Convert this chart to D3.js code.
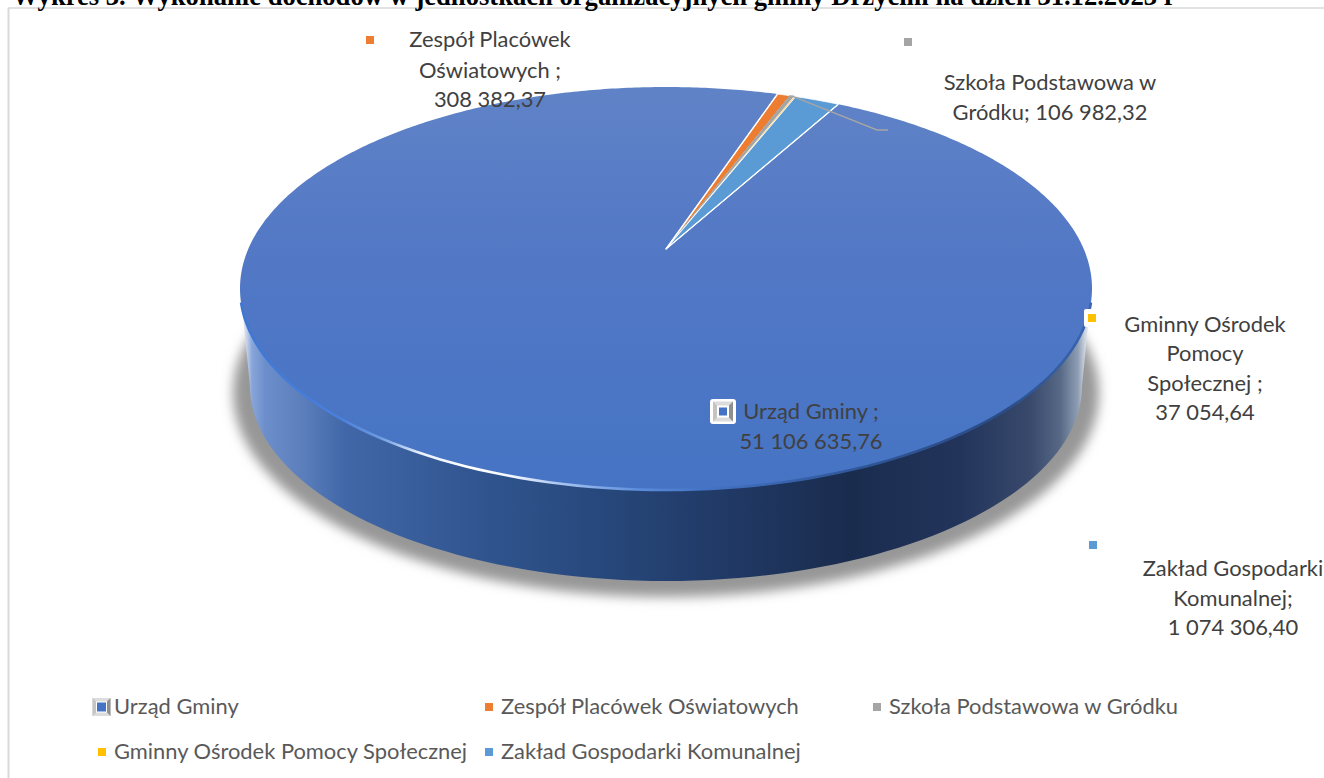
<!DOCTYPE html>
<html lang="pl">
<head>
<meta charset="utf-8">
<script src="https://cdn.jsdelivr.net/npm/d3@7"></script>
<style>
html,body{margin:0;padding:0;background:#fff;overflow:hidden}
svg{display:block}
</style>
</head>
<body>
<svg id="c" width="1324" height="778"></svg>
<script>
const titleText = "Wykres 3. Wykonanie dochodów w jednostkach organizacyjnych gminy Drzycim na dzień 31.12.2023 r";
const categories = ["Urząd Gminy","Zespół Placówek Oświatowych","Szkoła Podstawowa w Gródku","Gminny Ośrodek Pomocy Społecznej","Zakład Gospodarki Komunalnej"];
const values = [51106635.76,308382.37,106982.32,37054.64,1074306.40];
const colors = ["#4472c4","#ed7d31","#a5a5a5","#ffc000","#5b9bd5"];
const labelNameLines = [["Urząd Gminy ;"],["Zespół Placówek","Oświatowych ;"],["Szkoła Podstawowa w","Gródku;"],["Gminny Ośrodek","Pomocy","Społecznej ;"],["Zakład Gospodarki","Komunalnej;"]];

const svg = d3.select("#c");
const defs = svg.append("defs");
const FONT = "Lato, Carlito, Calibri, sans-serif";

// Perspective pie geometry: unit disc projected onto the top ellipse
const x = d3.scaleLinear().domain([-1,1]).range([240,1092]);
const y = d3.scaleLinear().domain([-1,1]).range([87,490]);
const k = -0.196;
const project = a => {
  const u = Math.sin(a), v = -Math.cos(a), w = 1 + k*v;
  return [x(u*Math.sqrt(1-k*k)/w), y((v+k)/w)];
};
const pie = d3.pie().sort(null).startAngle(28.9*Math.PI/180).endAngle((28.9+360)*Math.PI/180);
const arcs = pie(values);
const apex = [x(0), y(k)];
const slicePath = d => {
  const n = Math.max(2, Math.ceil((d.endAngle-d.startAngle)*90));
  const pts = d3.range(n+1).map(i => project(d.startAngle+(d.endAngle-d.startAngle)*i/n));
  return d3.line()([apex,...pts]) + "Z";
};

// gradients
const grad = (id, x1,y1,x2,y2, stops) => {
  const g = defs.append("linearGradient").attr("id",id).attr("gradientUnits","userSpaceOnUse")
    .attr("x1",x1).attr("y1",y1).attr("x2",x2).attr("y2",y2);
  stops.forEach(s => g.append("stop").attr("offset",(s[0]-(x1===x2?y1:x1))/((x1===x2?y2-y1:x2-x1))).attr("stop-color",s[1]));
};
grad("top",0,87,0,490,[[87,"#6083c7"],[250,"#5378c5"],[400,"#4a76c5"],[490,"#4673c3"]]);
grad("wall",240,0,1092,0,[[240,"#f2f4f9"],[246,"#cdd8ec"],[252,"#88a5d8"],[265,"#6c8fcc"],[300,"#5d80bd"],[345,"#4167a8"],[480,"#30558f"],[600,"#27487c"],[700,"#223c6a"],[850,"#1a2c4e"],[960,"#22345a"],[1030,"#38496c"],[1060,"#566885"],[1078,"#8f9eb4"],[1086,"#d6dde6"],[1092,"#f0f3f6"]]);
grad("rim",240,0,1092,0,[[240,"#3f76d2"],[340,"#4a80dc"],[380,"#6c9ae0"],[420,"#e8f0fc"],[470,"#ffffff"],[510,"#f5f9ff"],[560,"#a9c5f0"],[640,"#5c8ddc"],[700,"#4474c6"],[860,"#2f5597"],[1000,"#2b4d86"],[1092,"#3a66b4"]]);
const blur = defs.append("filter").attr("id","shadow").attr("x","-10%").attr("y","-20%").attr("width","120%").attr("height","140%");
blur.append("feGaussianBlur").attr("stdDeviation",6);
const blur2 = defs.append("filter").attr("id","soft").attr("x","-5%").attr("y","-5%").attr("width","110%").attr("height","110%");
blur2.append("feGaussianBlur").attr("stdDeviation",0.7);

// frame
svg.append("line").attr("x1",8.5).attr("x2",8.5).attr("y1",8).attr("y2",778).attr("stroke","#d9d9d9").attr("stroke-width",2);
svg.append("line").attr("x1",8).attr("x2",1324).attr("y1",8).attr("y2",8).attr("stroke","#d9d9d9").attr("stroke-width",1.5);

// title, cut by the top of the page as in the source
svg.append("text").attr("x",12).attr("y",5).attr("font-family","'Liberation Serif',serif").attr("font-weight","700")
  .attr("font-size",26.6).attr("fill","#000").text(titleText);

// shadow
defs.append("clipPath").attr("id","shClip").append("rect").attr("x",150).attr("y",305).attr("width",1030).attr("height",330);
svg.append("g").attr("clip-path","url(#shClip)").append("ellipse").attr("cx",x(0)).attr("cy",393).attr("rx",433).attr("ry",204)
  .attr("fill","#979797").attr("filter","url(#shadow)");

// wall
const wallLine = d3.line();
const botCx = x(0), botCy = 386, botRx = 416, botRy = 195;
const lowerArc = d3.range(0,181,2).map(t => {
  const a = t*Math.PI/180;
  return [botCx + botRx*Math.cos(a), botCy + botRy*Math.sin(a)];
});
svg.append("path").attr("d", wallLine([[x(1)-1,y(0)+8],...lowerArc,[x(-1)+1,y(0)+8]])+"Z").attr("fill","url(#wall)");

// top face
const slices = svg.append("g");
slices.selectAll("path").data(arcs).join("path")
  .attr("d", slicePath)
  .attr("fill",(d,i)=> i===0 ? "url(#top)" : colors[i])
  .attr("stroke",(d,i)=> i===0 ? "none" : (i===2 ? colors[2] : "#fff"))
  .attr("stroke-width",(d,i)=> i===2 ? 1.2 : 0.8)
  .attr("stroke-linejoin","round");

// white separators around the wedge group
svg.append("path").attr("d", d3.line()([project(arcs[1].startAngle),apex,project(arcs[4].endAngle)]))
  .attr("fill","none").attr("stroke","#fff").attr("stroke-width",1.4).attr("stroke-linejoin","round");

// rim light on the lower edge of the top face
const rimPts = d3.range(4,177,2).map(t => {
  const a = t*Math.PI/180;
  return [x(Math.cos(a)), y(Math.sin(a))];
});
svg.append("path").attr("d", d3.line()(rimPts)).attr("fill","none").attr("stroke","url(#rim)").attr("stroke-width",2.6).attr("filter","url(#soft)");

// leader line for Szkoła Podstawowa
const szkolaMid = project((arcs[2].startAngle+arcs[2].endAngle)/2);
svg.append("path").attr("d", d3.line()([szkolaMid,[877,130],[888,130]])).attr("fill","none").attr("stroke","#a5a5a5").attr("stroke-width",1.4);

// data labels
const nf = d3.formatLocale({decimal:",",thousands:"\u00a0",grouping:[3],currency:["",""]}).format(",.2f");
const labelPos = [
  {cx:811, base:[419,449]},
  {cx:490, base:[47,78,107]},
  {cx:1050,base:[90,120]},
  {cx:1205,base:[332,361,391,420]},
  {cx:1233,base:[576,606,635]}
];
const labelG = svg.append("g").attr("font-family",FONT).attr("font-size",21.9).attr("fill","#404040").attr("text-anchor","middle");
labelPos.forEach((p,i) => {
  const lines = [...labelNameLines[i]];
  const v = nf(values[i]);
  if (i===2) lines[lines.length-1] += " " + v; else lines.push(v);
  lines.forEach((t,j) => labelG.append("text").attr("x",p.cx).attr("y",p.base[j]).text(t));
});

// markers of the labels
const bevelMarker = (g, cx, cy, s) => {
  g.append("rect").attr("x",cx-s/2).attr("y",cy-s/2).attr("width",s).attr("height",s).attr("fill","#dcdcdc");
  g.append("path").attr("d",`M${cx-s/2} ${cy-s/2}L${cx-s/4} ${cy-s/4}V${cy+s/4}L${cx-s/2} ${cy+s/2}Z`).attr("fill","#c4c4c4");
  g.append("path").attr("d",`M${cx+s/2} ${cy-s/2}L${cx+s/4} ${cy-s/4}V${cy+s/4}L${cx+s/2} ${cy+s/2}Z`).attr("fill","#8f8f8f");
  g.append("rect").attr("x",cx-s/4-1).attr("y",cy-s/4-1).attr("width",s/2+2).attr("height",s/2+2).attr("fill","#fff");
};
const mk = svg.append("g");
mk.append("rect").attr("x",710).attr("y",399).attr("width",26).attr("height",25).attr("rx",3).attr("fill","#fff");
bevelMarker(mk,723,411.5,20);
mk.append("rect").attr("x",719).attr("y",407.5).attr("width",8).attr("height",8).attr("fill",colors[0]);
mk.append("rect").attr("x",1084).attr("y",309).attr("width",15).attr("height",18).attr("rx",2).attr("fill","#fff");
[[1,366,36],[2,904,38],[3,1088,314],[4,1089,541]].forEach(m =>
  mk.append("rect").attr("x",m[1]).attr("y",m[2]).attr("width",8).attr("height",8).attr("fill",colors[m[0]]));

// legend
const legendPos = [[114,714],[501,714],[889,714],[114,759],[501,759]];
const leg = svg.append("g");
categories.forEach((c,i) => {
  const [lx,ly] = legendPos[i];
  if (i===0) {
    bevelMarker(leg,101.5,707,18);
    leg.append("rect").attr("x",97).attr("y",702.5).attr("width",9).attr("height",9).attr("fill",colors[0]);
  } else {
    leg.append("rect").attr("x",lx-16).attr("y",ly-11).attr("width",8).attr("height",8).attr("fill",colors[i]);
  }
  leg.append("text").attr("x",lx).attr("y",ly).attr("font-family",FONT).attr("font-size",21.9).attr("fill","#595959").text(c);
});
</script>
</body>
</html>
